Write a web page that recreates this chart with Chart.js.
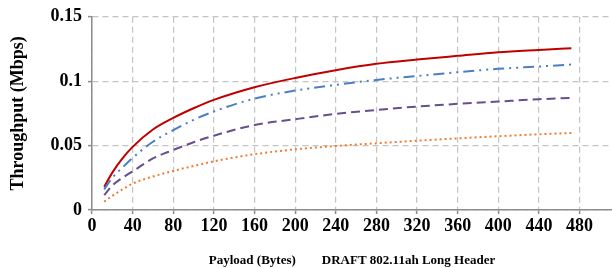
<!DOCTYPE html>
<html><head><meta charset="utf-8">
<script src="https://cdn.jsdelivr.net/npm/chart.js@4/dist/chart.umd.min.js"></script>
<style>html,body{margin:0;padding:0;background:#fff}#wrap{width:612px;height:268px}</style>
</head><body><div id="wrap"><canvas id="c" width="612" height="268"></canvas></div>
<script>
const payload = [12, 20, 30, 40, 60, 80, 100, 120, 160, 200, 240, 280, 320, 360, 400, 440, 472];
const seriesRed = [0.018, 0.029, 0.040, 0.049, 0.0625, 0.0715, 0.079, 0.0855, 0.0953, 0.1025, 0.1085, 0.1135, 0.1168, 0.1197, 0.1225, 0.1243, 0.1256];
const seriesBlue = [0.016, 0.025, 0.033, 0.0405, 0.053, 0.062, 0.070, 0.0765, 0.0865, 0.0927, 0.0971, 0.101, 0.104, 0.107, 0.1096, 0.1114, 0.1129];
const seriesPurple = [0.0115, 0.019, 0.025, 0.030, 0.040, 0.0466, 0.0526, 0.0577, 0.066, 0.0705, 0.0746, 0.0777, 0.0803, 0.0824, 0.0842, 0.086, 0.087];
const seriesOrange = [0.0065, 0.011, 0.016, 0.0205, 0.026, 0.0303, 0.0342, 0.0378, 0.0433, 0.0471, 0.0497, 0.0518, 0.0538, 0.0556, 0.0573, 0.0588, 0.0598];
const xTicks = [0, 40, 80, 120, 160, 200, 240, 280, 320, 360, 400, 440, 480];
const yTicks = [0, 0.05, 0.1, 0.15];
const xTitle = 'Payload (Bytes)        DRAFT 802.11ah Long Header';
const yTitle = 'Throughput (Mbps)';

const pts = arr => payload.map((x, i) => ({x: x, y: arr[i]}));
const ds = (arr, color, dash) => ({
  data: pts(arr), borderColor: color, backgroundColor: color, borderWidth: 2,
  borderDash: dash, pointRadius: 0, fill: false, cubicInterpolationMode: 'monotone'
});
const FONT = '"Liberation Serif", "Times New Roman", serif';
const gridCommon = {color: '#c4c4c4', lineWidth: 1.2, tickColor: '#8c8c8c', tickLength: 4, tickBorderDash: [0, 0], tickWidth: 1.5};
const borderCommon = {color: '#8c8c8c', width: 1.5, dash: [6, 4]};

new Chart(document.getElementById('c'), {
  type: 'line',
  data: {datasets: [
    ds(seriesOrange, '#ed7d31', [2, 3]),
    ds(seriesPurple, '#654f8e', [9, 5]),
    ds(seriesBlue, '#4a7fc1', [11, 5, 2, 5, 2, 5]),
    ds(seriesRed, '#c00000', [])
  ]},
  options: {
    responsive: false, animation: false, devicePixelRatio: 1,
    layout: {padding: {top: 9, right: 0, left: 0, bottom: 0}},
    plugins: {legend: {display: false}, tooltip: {enabled: false}},
    scales: {
      x: {
        type: 'linear', min: 0, max: 512,
        afterBuildTicks: s => { s.ticks = xTicks.map(v => ({value: v})); },
        afterFit: s => { s.height = 58; },
        grid: gridCommon,
        border: borderCommon,
        ticks: {color: '#000', font: {family: FONT, size: 18, weight: 'bold'}, padding: 2, maxRotation: 0, autoSkip: false},
        title: {display: true, text: xTitle, color: '#000', font: {family: FONT, size: 13, weight: 'bold'}, padding: {top: 1, bottom: 0}}
      },
      y: {
        min: 0, max: 0.15,
        afterBuildTicks: s => { s.ticks = yTicks.map(v => ({value: v})); },
        afterFit: s => { s.width = 92; },
        grid: gridCommon,
        border: borderCommon,
        ticks: {color: '#000', font: {family: FONT, size: 18, weight: 'bold'}, padding: 6,
          callback: v => String(v)},
        title: {display: true, text: yTitle, color: '#000', font: {family: FONT, size: 18, weight: 'bold'}, padding: {top: 8, bottom: 4}}
      }
    }
  }
});
</script></body></html>
